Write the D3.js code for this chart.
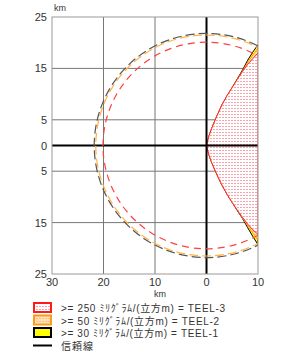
<!DOCTYPE html>
<html>
<head>
<meta charset="utf-8">
<script src="https://cdn.jsdelivr.net/npm/d3@7"></script>
<style>
  body { margin: 0; background: #fff; }
  svg text { font-family: "Liberation Sans", "DejaVu Sans", "Noto Sans CJK JP", sans-serif; fill: #333; }
</style>
</head>
<body>
<svg id="chart" width="300" height="356"></svg>
<script>
// axis ticks (km)
const xTicks = [-30, -20, -10, 0, 10]
const yTicks = [25, 15, 5, 0, -5, -15, -25]
const xGrid = [-20, -10]
const yGrid = [15, 5, -5, -15]

// plume boundaries: x (km) -> upper / lower y (km)
const plumeX   = [0, 0.5, 1, 2, 3, 4, 5, 6, 7, 8, 9, 10]
const teel3Up  = [0, 1.9, 3.3, 5.7, 7.9, 9.7, 11.3, 12.9, 14.4, 15.8, 16.9, 18.0]
const teel3Dn  = [0, -1.9, -3.3, -5.6, -7.7, -9.5, -11.1, -12.6, -14.0, -15.3, -16.4, -17.3]
const teel2Up  = [0, 1.9, 3.3, 5.7, 7.9, 9.7, 11.3, 12.9, 14.5, 16.2, 17.6, 18.9]
const teel2Dn  = [0, -1.9, -3.3, -5.6, -7.7, -9.5, -11.1, -12.6, -14.1, -15.6, -17.0, -18.4]
const teel1Up  = [0, 1.9, 3.3, 5.7, 7.9, 9.7, 11.3, 13.0, 14.7, 16.6, 18.2, 19.6]
const teel1Dn  = [0, -1.9, -3.3, -5.6, -7.7, -9.5, -11.1, -12.7, -14.2, -16.0, -17.7, -19.3]

// dashed confidence circles (radius km)
const circleNames = ['TEEL-1', 'TEEL-2', 'TEEL-3']
const circleRadii = [21.8, 21.5, 20.1]

const legendLabels = [
  '>= 250 ﾐﾘｸﾞﾗﾑ/(立方m) = TEEL-3',
  '>= 50 ﾐﾘｸﾞﾗﾑ/(立方m) = TEEL-2',
  '>= 30 ﾐﾘｸﾞﾗﾑ/(立方m) = TEEL-1',
  '信頼線'
]
const legendWidths = [164, 158, 157, 32]

const svg = d3.select('#chart')
const x = d3.scaleLinear().domain([-30, 10]).range([52, 258])
const y = d3.scaleLinear().domain([-25, 25]).range([274, 17])

const defs = svg.append('defs')
defs.append('clipPath').attr('id', 'plot')
  .append('rect')
  .attr('x', x(-30)).attr('y', y(25))
  .attr('width', x(10) - x(-30)).attr('height', y(-25) - y(25))

function dots(id, bg, dot) {
  const p = defs.append('pattern').attr('id', id)
    .attr('patternUnits', 'userSpaceOnUse').attr('width', 3).attr('height', 3)
  p.append('rect').attr('width', 3).attr('height', 3).attr('fill', bg)
  p.append('rect').attr('width', 2).attr('height', 1).attr('fill', dot)
}
dots('pink', '#fff', '#f7a4ad')
dots('peach', '#ffe2b8', '#ffc27a')

const plot = svg.append('g').attr('clip-path', 'url(#plot)')

// grid
plot.selectAll('.vg').data(xGrid).enter().append('line')
  .attr('x1', d => x(d)).attr('x2', d => x(d))
  .attr('y1', y(25)).attr('y2', y(-25))
  .attr('stroke', '#777').attr('stroke-width', 1)
plot.selectAll('.hg').data(yGrid).enter().append('line')
  .attr('y1', d => y(d)).attr('y2', d => y(d))
  .attr('x1', x(-30)).attr('x2', x(10))
  .attr('stroke', '#777').attr('stroke-width', 1)

// plume areas
function plumePath(up, dn) {
  const pts = plumeX.map((px, i) => [x(px), y(up[i])])
  for (let i = plumeX.length - 1; i >= 0; i--) pts.push([x(plumeX[i]), y(dn[i])])
  return d3.line().curve(d3.curveLinearClosed)(pts)
}
plot.append('path').attr('d', plumePath(teel1Up, teel1Dn))
  .attr('fill', '#ffff00').attr('stroke', '#000').attr('stroke-width', 1)
plot.append('path').attr('d', plumePath(teel2Up, teel2Dn))
  .attr('fill', 'url(#peach)').attr('stroke', '#ff9a1a').attr('stroke-width', 1)
plot.append('path').attr('d', plumePath(teel3Up, teel3Dn))
  .attr('fill', 'url(#pink)').attr('stroke', '#ff2020').attr('stroke-width', 1)

// axes through origin
plot.append('line').attr('x1', x(0)).attr('x2', x(0)).attr('y1', y(25)).attr('y2', y(-25))
  .attr('stroke', '#000').attr('stroke-width', 2)
plot.append('line').attr('y1', y(0)).attr('y2', y(0)).attr('x1', x(-30)).attr('x2', x(10))
  .attr('stroke', '#000').attr('stroke-width', 2)

// dashed circles
const circleColor = { 'TEEL-1': '#555', 'TEEL-2': '#ffb347', 'TEEL-3': '#ff4040' }
const circleDash = { 'TEEL-1': '9,4', 'TEEL-2': '9,4', 'TEEL-3': '7,5' }
plot.selectAll('.ring').data(circleNames).enter().append('ellipse')
  .attr('cx', x(0)).attr('cy', y(0))
  .attr('rx', (d, i) => x(circleRadii[i]) - x(0))
  .attr('ry', (d, i) => y(0) - y(circleRadii[i]))
  .attr('fill', 'none')
  .attr('stroke', d => circleColor[d])
  .attr('stroke-width', 1.2)
  .attr('stroke-dasharray', d => circleDash[d])

// frame
svg.append('rect')
  .attr('x', x(-30)).attr('y', y(25))
  .attr('width', x(10) - x(-30)).attr('height', y(-25) - y(25))
  .attr('fill', 'none').attr('stroke', '#999').attr('stroke-width', 1)

// tick labels
svg.selectAll('.yl').data(yTicks).enter().append('text')
  .attr('x', 47).attr('y', d => y(d) + 4)
  .attr('text-anchor', 'end').attr('font-size', 11)
  .text(d => Math.abs(d))
svg.selectAll('.xl').data(xTicks).enter().append('text')
  .attr('x', d => x(d)).attr('y', 286)
  .attr('text-anchor', 'middle').attr('font-size', 11)
  .text(d => Math.abs(d))
svg.append('text').attr('x', 54).attr('y', 11).attr('font-size', 9).text('km')
svg.append('text').attr('x', 160).attr('y', 297).attr('text-anchor', 'middle')
  .attr('font-size', 9).text('km')

// legend
const legend = svg.append('g')
const rowY = [308, 320.5, 333, 345.5]
const sw = [
  { fill: 'url(#pink)', stroke: '#ff1a1a' },
  { fill: 'url(#peach)', stroke: '#ff9a1a' },
  { fill: '#ffff00', stroke: '#000' }
]
legend.selectAll('.sw').data(sw).enter().append('rect')
  .attr('x', 34).attr('y', (d, i) => rowY[i] - 5)
  .attr('width', 17).attr('height', 9)
  .attr('fill', d => d.fill).attr('stroke', d => d.stroke).attr('stroke-width', 2)
legend.append('line').attr('x1', 33).attr('x2', 52)
  .attr('y1', rowY[3]).attr('y2', rowY[3])
  .attr('stroke', '#000').attr('stroke-width', 2)
legend.selectAll('.lt').data(legendLabels).enter().append('text')
  .attr('x', 61).attr('y', (d, i) => rowY[i] + 4)
  .attr('font-size', 10)
  .attr('textLength', (d, i) => legendWidths[i])
  .attr('lengthAdjust', 'spacing')
  .text(d => d)
</script>
</body>
</html>
